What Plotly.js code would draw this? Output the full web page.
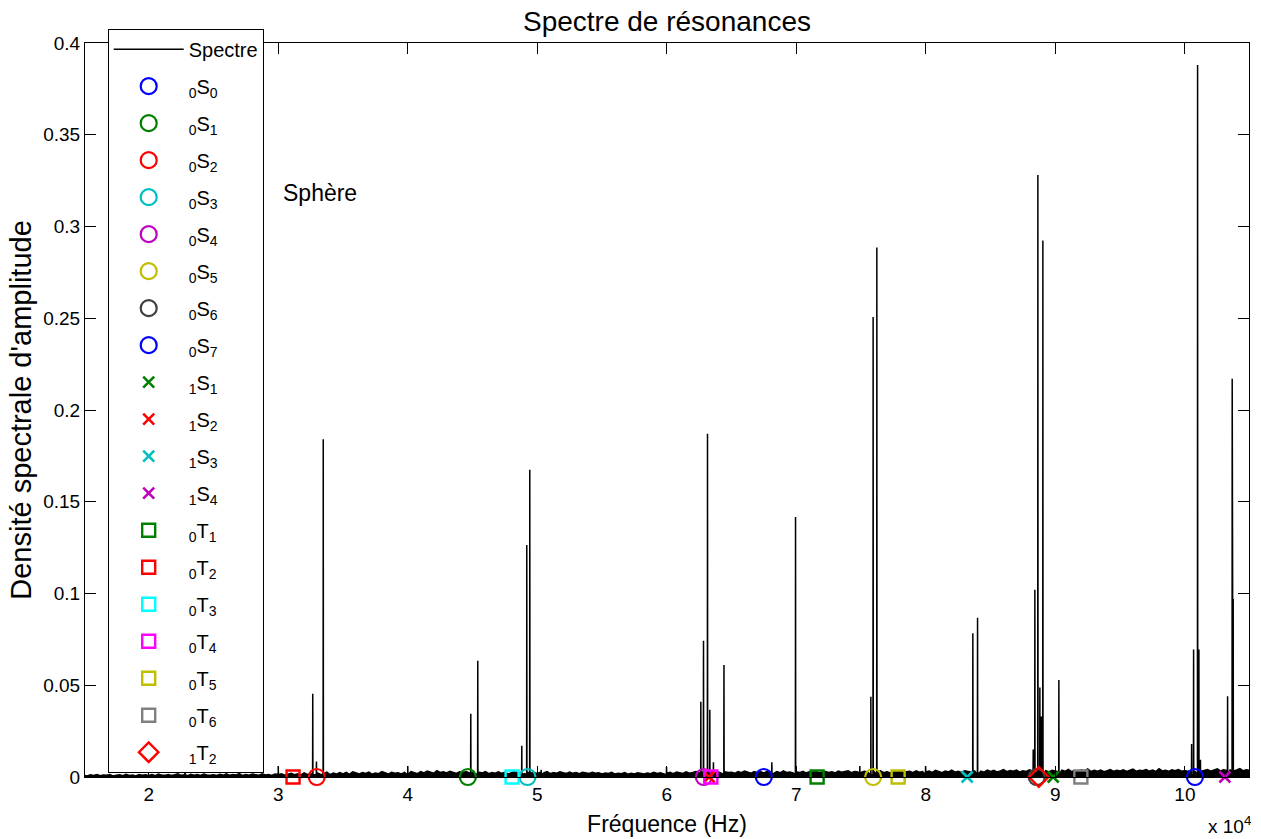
<!DOCTYPE html>
<html><head><meta charset="utf-8">
<script src="https://cdn.plot.ly/plotly-3.0.1.min.js"></script>
<style>html,body{margin:0;padding:0;background:#fff}#chart{width:1261px;height:839px}</style>
</head><body><div id="chart"></div>
<script>
// ---------- DATA ----------
// Noise floor of the spectrum (units of 1e-3), sampled every 250 Hz from 15000 Hz
const noiseStartHz = 15000;
const noiseStepHz = 250;
const noiseMilli = [
1.0,0.6,1.2,0.8,1.4,0.7,1.1,0.9,1.3,0.6,1.0,1.2,0.7,1.5,0.8,1.1,0.6,1.3,0.9,1.2,
0.8,1.3,0.7,1.6,1.0,0.9,1.4,0.8,1.2,1.7,0.9,1.1,0.7,1.5,1.0,1.3,0.8,1.6,1.1,0.9,
1.2,0.8,1.5,1.0,1.7,0.9,1.3,1.1,1.8,0.8,1.4,1.0,1.6,1.2,0.9,1.7,1.1,1.4,0.9,1.6,
1.3,1.8,1.0,1.5,2.0,1.2,1.7,1.1,2.2,1.4,1.9,1.2,2.3,1.5,1.8,2.6,1.3,2.1,1.6,2.4,
1.7,2.5,1.4,2.8,2.0,1.6,2.4,1.9,2.7,1.5,2.2,1.8,2.9,2.1,1.6,2.6,2.0,2.3,1.7,2.5,
2.1,3.0,2.4,1.8,2.9,2.2,3.2,2.6,2.0,3.4,2.5,2.9,2.2,3.1,2.4,1.9,2.8,2.3,3.0,2.2,
2.5,1.9,2.7,2.2,2.9,1.8,2.4,2.1,2.8,2.0,2.6,1.7,2.3,2.9,2.1,2.5,1.8,2.7,2.2,2.4,
1.9,2.6,2.2,3.0,1.8,2.5,2.1,2.8,2.3,1.9,2.7,2.0,2.4,1.8,2.6,2.2,1.9,2.5,2.0,2.3,
1.7,2.2,1.9,2.5,1.6,2.1,1.8,2.4,1.5,2.0,1.7,2.3,1.9,1.6,2.2,1.8,2.6,1.9,2.3,1.7,
2.0,2.5,1.8,2.7,2.2,1.9,2.8,2.1,2.5,3.0,2.4,2.9,2.2,2.6,3.1,2.3,2.7,2.0,2.8,2.4,
2.6,2.0,2.9,2.3,3.2,2.5,2.1,3.0,2.4,2.8,2.2,3.1,2.6,2.0,2.9,2.3,3.3,2.5,2.7,2.2,
2.8,2.4,3.1,2.2,2.9,2.6,3.3,2.3,2.7,3.0,2.5,2.9,2.2,3.2,2.6,2.8,3.4,2.4,3.0,2.7,
2.5,3.1,2.7,2.3,3.0,2.6,3.4,2.4,2.9,2.2,3.2,2.7,3.5,2.5,2.8,3.1,2.4,3.3,2.6,3.0,
2.7,3.2,2.5,3.6,2.9,2.4,3.3,2.8,3.8,2.6,3.1,2.5,3.4,3.0,2.7,3.5,2.8,3.2,2.6,3.7,
3.0,3.6,2.8,3.3,4.0,2.9,3.5,3.1,3.8,2.7,3.4,3.0,3.9,3.2,2.9,3.7,3.1,3.5,2.8,3.6,
3.2,2.8,3.7,3.1,4.2,3.0,3.5,2.9,3.9,3.3,4.4,3.0,3.6,3.2,3.8,2.9,3.4,4.1,3.1,3.6,
3.3,3.9,3.0,3.6,4.3,3.1,3.7,3.4,4.0,3.2,3.8,3.0,4.5,3.3,3.6,3.1,3.9,3.4,4.1,3.2,
3.5,3.0,3.8,3.3,4.2,3.1,3.6,4.0,3.2,3.7,4.4,3.3,3.9,3.5,4.1,3.2,3.8,4.6,3.4,3.9,
3.6
];
// Resonance peaks of the spectrum
const peakFreqHz = [22800, 30000, 32664, 32950, 33475, 40000, 44865, 45405, 48803, 49189,
  49421, 50300, 59980, 62626, 62834, 63143, 63321, 63600, 64414, 68110,
  69939, 74900, 75753, 75930, 76216, 79980, 83629, 83992, 88290, 88417,
  88649, 88803, 88919, 89035, 90270, 100520, 100672, 100981, 101081, 101200,
  103297, 103653, 103730];
const peakAmp = [0.005, 0.006, 0.0454, 0.0085, 0.184, 0.006, 0.0345, 0.0634, 0.017, 0.1264,
  0.1675, 0.004, 0.0055, 0.041, 0.0743, 0.187, 0.0367, 0.008, 0.061, 0.008,
  0.1417, 0.006, 0.0437, 0.2507, 0.2885, 0.006, 0.0783, 0.0868, 0.015, 0.102,
  0.328, 0.0488, 0.033, 0.2924, 0.0529, 0.018, 0.0695, 0.388, 0.0695, 0.0094,
  0.044, 0.217, 0.097];
const peakBase = 0.0012;

// Theoretical modes (marked on the frequency axis)
const modeNames = [
  '<sub>0</sub>S<sub>0</sub>', '<sub>0</sub>S<sub>1</sub>', '<sub>0</sub>S<sub>2</sub>', '<sub>0</sub>S<sub>3</sub>',
  '<sub>0</sub>S<sub>4</sub>', '<sub>0</sub>S<sub>5</sub>', '<sub>0</sub>S<sub>6</sub>', '<sub>0</sub>S<sub>7</sub>',
  '<sub>1</sub>S<sub>1</sub>', '<sub>1</sub>S<sub>2</sub>', '<sub>1</sub>S<sub>3</sub>', '<sub>1</sub>S<sub>4</sub>',
  '<sub>0</sub>T<sub>1</sub>', '<sub>0</sub>T<sub>2</sub>', '<sub>0</sub>T<sub>3</sub>', '<sub>0</sub>T<sub>4</sub>',
  '<sub>0</sub>T<sub>5</sub>', '<sub>0</sub>T<sub>6</sub>', '<sub>1</sub>T<sub>2</sub>'];
const modeFreqHz = [67490, 44640, 32973, 49243, 62857, 75930, 88560, 100775,
  89830, 63268, 83190, 103090,
  71606, 31143, 48055, 63400, 77860, 91969, 88726];
const modeAmp = [0,0,0,0,0,0,0,0,0,0,0,0,0,0,0,0,0,0,0];

// Styles
const modeColors = ['#0000FF','#008000','#FF0000','#00BFBF','#BF00BF','#BFBF00','#404040','#0000FF',
  '#008000','#FF0000','#00BFBF','#BF00BF',
  '#008000','#FF0000','#00FFFF','#FF00FF','#BFBF00','#808080','#FF0000'];
const modeSymbols = ['circle-open','circle-open','circle-open','circle-open','circle-open','circle-open','circle-open','circle-open',
  'x-thin-open','x-thin-open','x-thin-open','x-thin-open',
  'square-open','square-open','square-open','square-open','square-open','square-open','diamond-open'];
const symbolSize = {'circle-open':16, 'x-thin-open':11, 'square-open':13, 'diamond-open':15};
const symbolWidth = {'circle-open':2.2, 'x-thin-open':2.6, 'square-open':2.4, 'diamond-open':2.4};

const xTickVals = [20000,30000,40000,50000,60000,70000,80000,90000,100000];
const xTickText = ['2','3','4','5','6','7','8','9','10'];

// ---------- BUILD ----------
const pts = [];
noiseMilli.forEach((v, i) => pts.push([noiseStartHz + i * noiseStepHz, v * 1e-3]));
peakFreqHz.forEach((f, i) => {
  pts.push([f - 12, peakBase]);
  pts.push([f, peakAmp[i]]);
  pts.push([f + 12, peakBase]);
});
pts.sort((a, b) => a[0] - b[0]);
const specX = pts.map(p => p[0]);
const specY = pts.map(p => p[1]);

const FONT = 'Liberation Sans, Arial, Helvetica, sans-serif';

const traces = [
  {x: specX, y: specY, type: 'scatter', mode: 'lines', fill: 'tozeroy', fillcolor: '#000000',
   line: {width: 0, color: '#000000'}, showlegend: false, hoverinfo: 'skip', legendgroup: 'fill'},
  {x: specX, y: specY, type: 'scatter', mode: 'lines', name: 'Spectre',
   line: {width: 1.5, color: '#000000'}, legendgroup: 'spectre'}
];
modeNames.forEach((n, i) => {
  const s = modeSymbols[i];
  traces.push({
    x: [modeFreqHz[i]], y: [modeAmp[i]], type: 'scatter', mode: 'markers', name: n,
    legendgroup: 'm' + i, cliponaxis: false,
    marker: {symbol: s, size: symbolSize[s], color: modeColors[i],
             line: {color: modeColors[i], width: symbolWidth[s]}}
  });
});

const layout = {
  width: 1261, height: 839,
  margin: {l: 85, r: 12, t: 43, b: 62},
  paper_bgcolor: '#ffffff', plot_bgcolor: '#ffffff',
  font: {family: FONT, color: '#000000', size: 19},
  title: {text: 'Spectre de résonances', font: {size: 28, family: FONT},
          x: 0.5, xref: 'paper', xanchor: 'center', y: 0.975, yref: 'container', yanchor: 'middle'},
  xaxis: {
    range: [15080, 104950], tickvals: xTickVals, ticktext: xTickText,
    ticks: 'inside', ticklen: 11, tickwidth: 1, tickcolor: '#000',
    showline: true, linecolor: '#000', linewidth: 1, mirror: 'ticks',
    showgrid: false, zeroline: false, tickfont: {size: 19},
    title: {text: 'Fréquence (Hz)', font: {size: 23}, standoff: 12}, automargin: false
  },
  yaxis: {
    range: [0, 0.4], dtick: 0.05, tick0: 0,
    ticks: 'inside', ticklen: 11, tickwidth: 1, tickcolor: '#000',
    showline: true, linecolor: '#000', linewidth: 1, mirror: 'ticks',
    showgrid: false, zeroline: false, tickfont: {size: 19},
    title: {text: "Densité spectrale d'amplitude", font: {size: 29}, standoff: 3}, automargin: false
  },
  legend: {
    x: 0.0195, y: 1.0195, xanchor: 'left', yanchor: 'top',
    bgcolor: '#ffffff', bordercolor: '#000000', borderwidth: 1,
    font: {size: 20}, tracegroupgap: 8, traceorder: 'grouped', itemwidth: 70,
    maxheight: 1
  },
  annotations: [
    {text: 'Sphère', x: 30250, y: 0.318, xref: 'x', yref: 'y', xanchor: 'left', yanchor: 'middle',
     showarrow: false, font: {size: 23}},
    {text: 'x 10<sup>4</sup>', x: 1.0035, y: -0.066, xref: 'paper', yref: 'paper', xanchor: 'right',
     yanchor: 'middle', showarrow: false, font: {size: 19}}
  ],
  showlegend: true
};

Plotly.newPlot('chart', traces, layout, {staticPlot: true, displayModeBar: false});
</script>
</body></html>
